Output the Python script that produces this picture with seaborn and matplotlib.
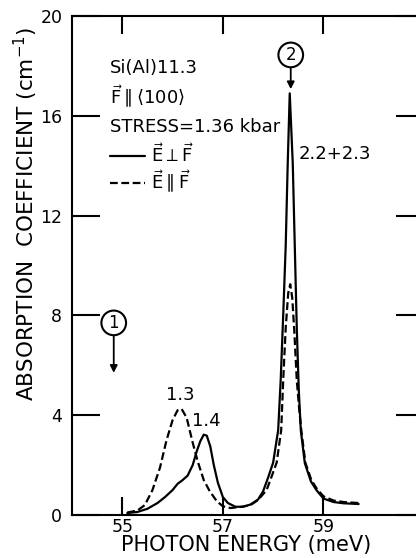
import numpy as np
import pandas as pd
import matplotlib
matplotlib.use("Agg")
import matplotlib.pyplot as plt
import seaborn as sns

# ---- data ----
perp_energy = [55.10, 55.30, 55.50, 55.70, 55.85, 56.00, 56.10, 56.20, 56.30, 56.40,
               56.48, 56.55, 56.62, 56.68, 56.75, 56.82, 56.90, 57.00, 57.10, 57.25,
               57.40, 57.55, 57.70, 57.80, 57.90, 58.00, 58.10, 58.15, 58.20, 58.25,
               58.29, 58.33, 58.36, 58.39, 58.43, 58.47, 58.51, 58.55, 58.63, 58.75,
               58.86, 59.00, 59.20, 59.40, 59.70]
perp_abs = [0.08, 0.12, 0.25, 0.48, 0.72, 1.00, 1.25, 1.40, 1.58, 2.00,
            2.55, 2.95, 3.22, 3.18, 2.75, 2.00, 1.30, 0.72, 0.48, 0.33,
            0.33, 0.42, 0.62, 0.95, 1.50, 2.10, 3.40, 5.40, 8.00, 10.8,
            14.1, 16.9, 15.5, 14.1, 10.8, 7.5, 5.0, 3.40, 2.08, 1.35,
            1.00, 0.66, 0.52, 0.47, 0.44]

par_energy = [55.10, 55.30, 55.45, 55.60, 55.75, 55.88, 56.00, 56.10, 56.18, 56.28,
              56.40, 56.50, 56.62, 56.74, 56.88, 57.00, 57.15, 57.35, 57.55, 57.70,
              57.87, 57.98, 58.07, 58.16, 58.20, 58.25, 58.30, 58.34, 58.38, 58.42,
              58.47, 58.52, 58.56, 58.64, 58.76, 58.87, 59.00, 59.20, 59.40, 59.70]
par_abs = [0.10, 0.18, 0.40, 1.00, 1.90, 3.00, 3.80, 4.20, 4.25, 3.90,
           2.90, 2.15, 1.40, 0.95, 0.55, 0.35, 0.28, 0.32, 0.40, 0.60,
           1.00, 1.60, 2.10, 3.40, 5.40, 7.50, 8.90, 9.25, 8.70, 7.40,
           5.40, 4.20, 3.40, 2.10, 1.40, 1.05, 0.75, 0.58, 0.52, 0.48]

label_perp = r"$\vec{\mathrm{E}}\perp\vec{\mathrm{F}}$"
label_par = r"$\vec{\mathrm{E}}\parallel\vec{\mathrm{F}}$"

x_ticks = [55, 57, 59]
y_ticks = [0, 4, 8, 12, 16, 20]

df = pd.DataFrame({
    "energy": perp_energy + par_energy,
    "absorption": perp_abs + par_abs,
    "pol": [label_perp] * len(perp_energy) + [label_par] * len(par_energy),
})

sns.set_style("white")
plt.rcParams["font.family"] = ["DejaVu Sans"]
plt.rcParams["mathtext.fontset"] = "dejavusans"
plt.rcParams["text.color"] = "black"
plt.rcParams["axes.labelcolor"] = "black"
plt.rcParams["xtick.color"] = "black"
plt.rcParams["ytick.color"] = "black"

fig = plt.figure(figsize=(4.16, 5.58), dpi=100)
ax = fig.add_axes([72 / 416, 1 - 515 / 558, 352 / 416, 499 / 558])

sns.lineplot(data=df, x="energy", y="absorption", hue="pol", style="pol",
             palette={label_perp: "black", label_par: "black"},
             dashes={label_perp: "", label_par: (3.5, 1.6)},
             estimator=None, sort=False, lw=1.6, ax=ax)

ax.set_xlim(54, 61)
ax.set_ylim(0, 20)
ax.set_xticks(x_ticks)
ax.set_yticks(y_ticks)
ax.set_xticklabels([str(t) for t in x_ticks], fontsize=12.5)
ax.set_yticklabels([str(t) for t in y_ticks], fontsize=12.5)
ax.tick_params(axis="x", direction="in", length=13, width=1.5, top=True, bottom=True, pad=2)
ax.tick_params(axis="y", direction="in", length=20, width=1.5, right=True, left=True, pad=7)
for s in ax.spines.values():
    s.set_linewidth(1.5)
    s.set_color("black")

ax.set_xlabel("PHOTON ENERGY (meV)", fontsize=15)
ax.set_ylabel(r"ABSORPTION  COEFFICIENT (cm$^{-1}$)", fontsize=15.5)
ax.xaxis.set_label_coords(0.496, -0.040)
ax.yaxis.set_label_coords(-0.092, 0.604)

# text block
tx = 54.756
ax.text(tx, 17.92, "Si(Al)11.3", fontsize=13, ha="left", va="center")
ax.text(tx, 16.75, r"$\vec{\mathrm{F}}\parallel\langle100\rangle$", fontsize=13, ha="left", va="center")
ax.text(tx, 15.55, "STRESS=1.36 kbar", fontsize=13, ha="left", va="center")

handles, labels = ax.get_legend_handles_labels()
ax.legend(handles, labels, loc="upper left", bbox_to_anchor=(0.108, 0.745),
          frameon=False, fontsize=13, handlelength=1.95, handletextpad=0.3,
          labelspacing=0.15, borderpad=0, borderaxespad=0)

# peak labels
ax.text(58.50, 14.45, "2.2+2.3", fontsize=13, ha="left", va="center")
ax.text(56.15, 4.80, "1.3", fontsize=13, ha="center", va="center")
ax.text(56.68, 3.75, "1.4", fontsize=13, ha="center", va="center")

arrow = dict(arrowstyle="-|>,head_length=0.35,head_width=0.18", color="black", lw=1.3,
             shrinkA=0, shrinkB=0)
circ = dict(boxstyle="circle,pad=0.2", fc="white", ec="black", lw=1.5)
ax.annotate("1", xy=(54.83, 5.7), xytext=(54.83, 7.7), fontsize=12, ha="center",
            va="center", bbox=circ, arrowprops=arrow)
ax.annotate("2", xy=(58.35, 17.07), xytext=(58.35, 18.44), fontsize=12, ha="center",
            va="center", bbox=circ, arrowprops=arrow)

fig.savefig("out.png", dpi=100)
